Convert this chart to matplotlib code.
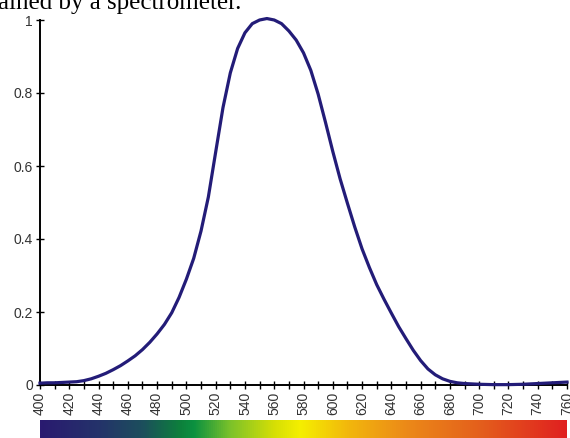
import numpy as np
import matplotlib.pyplot as plt
from matplotlib.colors import LinearSegmentedColormap
from matplotlib.ticker import MultipleLocator

# luminosity curve (5 nm steps)
wavelength = [400, 405, 410, 415, 420, 425, 430, 435, 440, 445, 450, 455, 460, 465,
              470, 475, 480, 485, 490, 495, 500, 505, 510, 515, 520, 525, 530, 535,
              540, 545, 550, 555, 560, 565, 570, 575, 580, 585, 590, 595, 600, 605,
              610, 615, 620, 625, 630, 635, 640, 645, 650, 655, 660, 665, 670, 675,
              680, 685, 690, 695, 700, 710, 720, 730, 740, 750, 760]
sensitivity = [0.005, 0.006, 0.006, 0.007, 0.008, 0.009, 0.012, 0.017, 0.024, 0.032,
               0.042, 0.053, 0.066, 0.080, 0.097, 0.117, 0.14, 0.166, 0.198, 0.24,
               0.29, 0.347, 0.422, 0.515, 0.638, 0.76, 0.855, 0.922, 0.965, 0.99, 1.0,
               1.004, 1.0, 0.99, 0.97, 0.945, 0.91, 0.862, 0.797, 0.72, 0.64, 0.565,
               0.498, 0.433, 0.373, 0.322, 0.275, 0.235, 0.197, 0.16, 0.127, 0.095,
               0.067, 0.044, 0.028, 0.017, 0.01, 0.006, 0.004, 0.003, 0.002, 0.001,
               0.001, 0.002, 0.004, 0.006, 0.008]

x_ticks = list(range(400, 761, 20))
y_ticks = [0, 0.2, 0.4, 0.6, 0.8, 1]
y_labels = ['0', '0.2', '0.4', '0.6', '0.8', '1']

# spectrum bar colours
spec_pos = [400, 440, 470, 495, 505, 530, 560, 578, 610, 650, 700, 760]
spec_col = ['#2a1a70', '#24336a', '#1c4f5c', '#0d7f3c', '#0b9140', '#7cc22a',
            '#d6df05', '#f5ef00', '#f2b80c', '#ec8a18', '#e4601c', '#e02020']

plt.rcParams['font.family'] = ['Liberation Sans', 'DejaVu Sans']

fig = plt.figure(figsize=(5.7, 4.38), dpi=100)
ax = fig.add_axes([40 / 570, 1 - 385 / 438, 527 / 570, 365 / 438])

ax.plot(wavelength, sensitivity, color='#231c78', lw=2.3, clip_on=False, zorder=3,
        solid_joinstyle='round')

ax.set_xlim(400, 760)
ax.set_ylim(0, 1)
ax.spines['top'].set_visible(False)
ax.spines['right'].set_visible(False)
ax.spines['left'].set_linewidth(1.4)
ax.spines['bottom'].set_linewidth(1.4)

ax.set_xticks(x_ticks)
ax.set_xticklabels([str(v) for v in x_ticks], rotation=90)
ax.xaxis.set_minor_locator(MultipleLocator(10))
ax.set_yticks(y_ticks)
ax.set_yticklabels(y_labels)
ax.tick_params(axis='both', which='both', direction='inout', length=6, width=1,
               labelsize=10, labelcolor='#333333')
ax.tick_params(axis='x', pad=2)
ax.tick_params(axis='y', pad=2)

# spectrum strip under the axis
cax = fig.add_axes([40 / 570, 0, 527 / 570, 18 / 438])
pos = [(p - 400) / 360 for p in spec_pos]
cmap = LinearSegmentedColormap.from_list('spec', list(zip(pos, spec_col)))
cax.imshow(np.linspace(0, 1, 512).reshape(1, -1), aspect='auto', cmap=cmap)
cax.axis('off')

fig.text(-0.004, 1 - 8.5 / 438, 'ained by a spectrometer.', family='Liberation Serif',
         fontsize=18, va='baseline', ha='left')

fig.savefig('out.png', dpi=100)
